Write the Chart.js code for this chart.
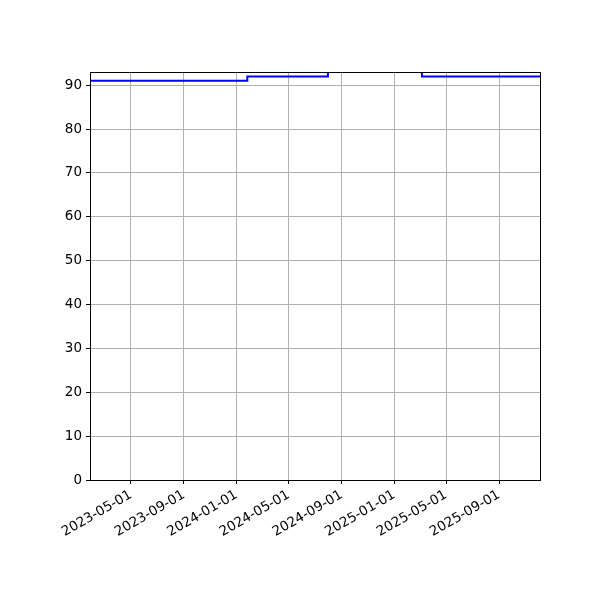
<!DOCTYPE html>
<html>
<head>
<meta charset="utf-8">
<script src="https://cdn.jsdelivr.net/npm/chart.js@4/dist/chart.umd.min.js"></script>
<style>
  html, body { margin: 0; padding: 0; background: #fff; }
  #wrap { width: 600px; height: 600px; }
</style>
</head>
<body>
<div id="wrap"><canvas id="myChart" width="600" height="600"></canvas></div>
<script>
// data (value changes at these dates, held until the next one)
let dates = ['2023-01-26', '2024-01-26', '2024-07-31', '2025-03-06', '2025-12-05'];
let values = [91, 92, 93, 92, 92];
let xTickLabels = ['2023-05-01', '2023-09-01', '2024-01-01', '2024-05-01',
                   '2024-09-01', '2025-01-01', '2025-05-01', '2025-09-01'];
let yTickValues = [0, 10, 20, 30, 40, 50, 60, 70, 80, 90];

function toTime(s) {
    let p = s.split('-');
    return Date.UTC(+p[0], +p[1] - 1, +p[2]);
}
function formatDate(t) {
    let d = new Date(t);
    let m = String(d.getUTCMonth() + 1).padStart(2, '0');
    let day = String(d.getUTCDate()).padStart(2, '0');
    return d.getUTCFullYear() + '-' + m + '-' + day;
}

let points = dates.map((d, i) => ({ x: toTime(d), y: values[i] }));
let xTicks = xTickLabels.map(toTime);

// top and right spines
let frame = {
    id: 'frame',
    afterDraw(chart) {
        let a = chart.chartArea;
        let ctx = chart.ctx;
        ctx.save();
        ctx.strokeStyle = '#000';
        ctx.lineWidth = 1;
        ctx.strokeRect(Math.round(a.left) + 0.5, Math.round(a.top) + 0.5,
                       Math.round(a.right - a.left), Math.round(a.bottom - a.top));
        ctx.restore();
    }
};

Chart.defaults.font.family = '"DejaVu Sans", sans-serif';
Chart.defaults.font.size = 13.5;
Chart.defaults.color = '#000';

let chart = new Chart(document.getElementById('myChart').getContext('2d'), {
    type: 'line',
    data: {
        datasets: [{
            data: points,
            borderColor: '#0000ff',
            borderWidth: 2,
            stepped: 'before',
            pointRadius: 0,
            fill: false
        }]
    },
    options: {
        responsive: false,
        animation: false,
        layout: { padding: { top: 72, right: 60, left: 0, bottom: 0 } },
        plugins: { legend: { display: false }, tooltip: { enabled: false } },
        scales: {
            x: {
                type: 'linear',
                min: toTime(dates[0]),
                max: toTime(dates[dates.length - 1]),
                afterBuildTicks(scale) {
                    scale.ticks = xTicks.map(v => ({ value: v }));
                },
                afterFit(scale) { scale.height = 120; },
                grid: { color: '#b0b0b0', lineWidth: 1, tickColor: '#000', tickLength: 4 },
                border: { display: true, color: '#000', width: 1 },
                ticks: {
                    autoSkip: false,
                    minRotation: 30,
                    maxRotation: 30,
                    padding: 3,
                    callback: v => formatDate(v)
                }
            },
            y: {
                type: 'linear',
                min: 0,
                max: 93,
                afterBuildTicks(scale) {
                    scale.ticks = yTickValues.map(v => ({ value: v }));
                },
                afterFit(scale) { scale.width = 90; },
                grid: { color: '#b0b0b0', lineWidth: 1, tickColor: '#000', tickLength: 4 },
                border: { display: true, color: '#000', width: 1 },
                ticks: { padding: 4 }
            }
        }
    },
    plugins: [frame]
});
</script>
</body>
</html>
